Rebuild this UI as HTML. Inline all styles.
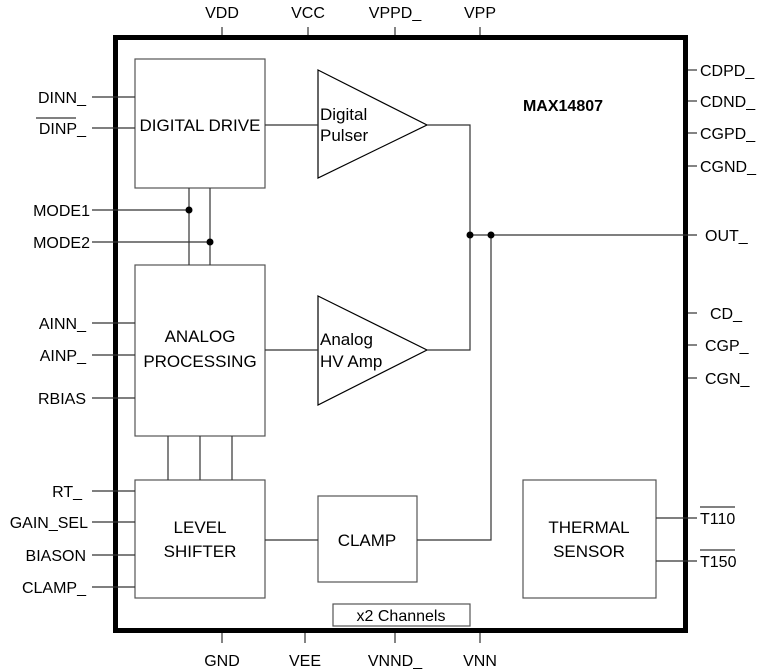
<!DOCTYPE html>
<html><head><style>body{margin:0;background:#fff}svg{display:block}text{font-family:"Liberation Sans",Arial,sans-serif;font-size:16px;fill:#000}.b{font-size:17px}</style></head><body>
<svg width="760" height="670" xmlns="http://www.w3.org/2000/svg">
<rect width="760" height="670" fill="#fff"/>
<rect x="115.5" y="37.5" width="570" height="593" fill="none" stroke="#000" stroke-width="5"/>
<g stroke="#555" stroke-width="1.2" fill="#fff">
<rect x="135" y="59" width="130" height="129"/>
<rect x="135" y="265" width="130" height="171"/>
<rect x="135" y="480" width="130" height="118"/>
<rect x="318" y="496" width="99" height="86"/>
<rect x="523" y="480" width="133" height="118"/>
<rect x="333" y="604" width="137" height="22"/>
<polygon points="318,70 427,125 318,178" stroke="#000"/>
<polygon points="318,296 427,350 318,405" stroke="#000"/>
</g>
<g stroke="#333" stroke-width="1.2" fill="none">
<line x1="265" y1="125" x2="318" y2="125"/>
<line x1="265" y1="350" x2="318" y2="350"/>
<polyline points="427,125 470,125 470,350 427,350"/>
<line x1="470" y1="235" x2="697" y2="235"/>
<polyline points="491,235 491,540 417,540"/>
<line x1="265" y1="540" x2="318" y2="540"/>
<line x1="189" y1="188" x2="189" y2="265"/>
<line x1="210" y1="188" x2="210" y2="265"/>
<line x1="92" y1="210" x2="189" y2="210"/>
<line x1="92" y1="242" x2="210" y2="242"/>
<line x1="168" y1="436" x2="168" y2="480"/>
<line x1="200" y1="436" x2="200" y2="480"/>
<line x1="232" y1="436" x2="232" y2="480"/>
<line x1="92" y1="97" x2="135" y2="97"/>
<line x1="92" y1="128" x2="135" y2="128"/>
<line x1="92" y1="323" x2="135" y2="323"/>
<line x1="92" y1="355" x2="135" y2="355"/>
<line x1="92" y1="398" x2="135" y2="398"/>
<line x1="92" y1="491" x2="135" y2="491"/>
<line x1="92" y1="522" x2="135" y2="522"/>
<line x1="92" y1="555" x2="135" y2="555"/>
<line x1="92" y1="587" x2="135" y2="587"/>
<line x1="656" y1="518" x2="697" y2="518"/>
<line x1="656" y1="561" x2="697" y2="561"/>
<line x1="688" y1="70" x2="697" y2="70"/>
<line x1="688" y1="101" x2="697" y2="101"/>
<line x1="688" y1="133" x2="697" y2="133"/>
<line x1="688" y1="166" x2="697" y2="166"/>
<line x1="688" y1="313" x2="697" y2="313"/>
<line x1="688" y1="345" x2="697" y2="345"/>
<line x1="688" y1="378" x2="697" y2="378"/>
<line x1="222" y1="27" x2="222" y2="35"/>
<line x1="308" y1="27" x2="308" y2="35"/>
<line x1="395" y1="27" x2="395" y2="35"/>
<line x1="480" y1="27" x2="480" y2="35"/>
<line x1="222" y1="633" x2="222" y2="643"/>
<line x1="305" y1="633" x2="305" y2="643"/>
<line x1="395" y1="633" x2="395" y2="643"/>
<line x1="480" y1="633" x2="480" y2="643"/>
</g>
<g fill="#000"><circle cx="189" cy="210" r="3.5"/><circle cx="210" cy="242" r="3.5"/><circle cx="470" cy="235" r="3.5"/><circle cx="491" cy="235" r="3.5"/></g>
<g text-anchor="middle">
<text x="222" y="18">VDD</text><text x="308" y="18">VCC</text><text x="395" y="18">VPPD_</text><text x="480" y="18">VPP</text>
<text x="222" y="666">GND</text><text x="305" y="666">VEE</text><text x="395" y="666">VNND_</text><text x="480" y="666">VNN</text>
<text class="b" x="200" y="131">DIGITAL DRIVE</text>
<text class="b" x="200" y="342">ANALOG</text><text class="b" x="200" y="367">PROCESSING</text>
<text class="b" x="200" y="533">LEVEL</text><text class="b" x="200" y="557">SHIFTER</text>
<text class="b" x="367" y="546">CLAMP</text>
<text class="b" x="589" y="533">THERMAL</text><text class="b" x="589" y="557">SENSOR</text>
<text x="401" y="621" font-size="15">x2 Channels</text>
<text x="563" y="111" font-weight="bold">MAX14807</text>
</g>
<text class="b" x="320" y="120">Digital</text><text class="b" x="320" y="141">Pulser</text>
<text class="b" x="320" y="345">Analog</text><text class="b" x="320" y="367">HV Amp</text>
<g text-anchor="end">
<text x="86" y="103">DINN_</text><text x="86" y="134">DINP_</text>
<text x="90" y="216">MODE1</text><text x="90" y="248">MODE2</text>
<text x="86" y="329">AINN_</text><text x="86" y="361">AINP_</text><text x="86" y="404">RBIAS</text>
<text x="82" y="497">RT_</text><text x="88" y="528">GAIN_SEL</text><text x="86" y="561">BIASON</text><text x="86" y="593">CLAMP_</text>
</g>
<line x1="36" y1="118" x2="76" y2="118" stroke="#000" stroke-width="1"/>
<text x="700" y="76">CDPD_</text><text x="700" y="107">CDND_</text><text x="700" y="139">CGPD_</text><text x="700" y="172">CGND_</text>
<text x="705" y="241">OUT_</text>
<text x="710" y="319">CD_</text><text x="705" y="351">CGP_</text><text x="705" y="384">CGN_</text>
<text x="700" y="524">T110</text><text x="700" y="567">T150</text>
<line x1="700" y1="507" x2="735" y2="507" stroke="#000"/><line x1="700" y1="550" x2="735" y2="550" stroke="#000"/>
</svg>
</body></html>
